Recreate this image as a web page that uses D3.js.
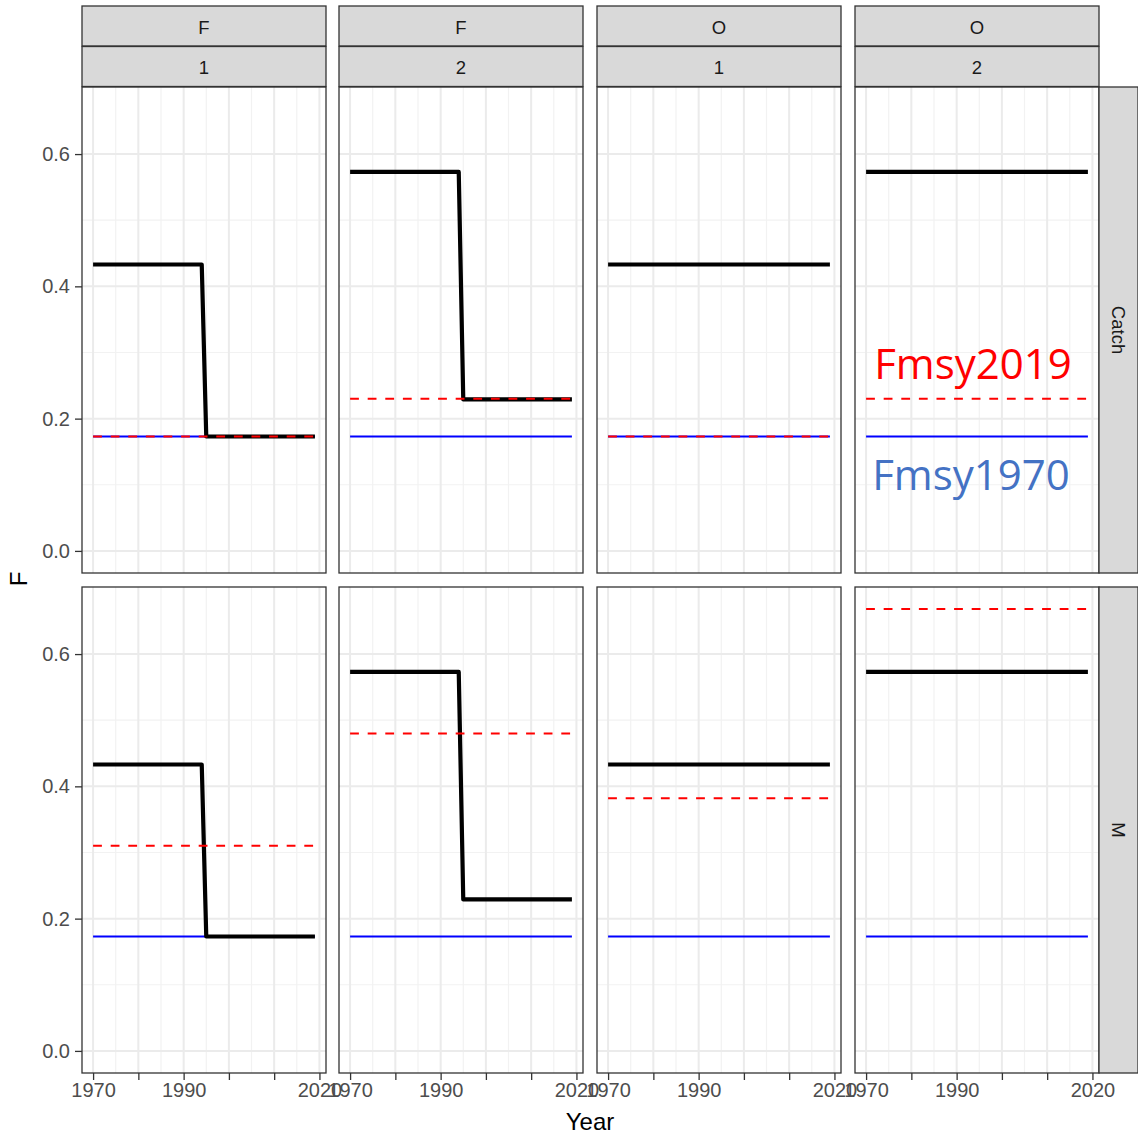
<!DOCTYPE html>
<html>
<head>
<meta charset="utf-8">
<script src="https://cdn.jsdelivr.net/npm/d3@7"></script>
<style>
  body { margin: 0; background: #fff; }
</style>
</head>
<body>
<div id="chart"></div>
<script>
// facet columns (two strip rows) and facet rows
var colTop = ["F", "F", "O", "O"];
var colBottom = ["1", "2", "1", "2"];
var rowLabels = ["Catch", "M"];

// black F trajectory per column: [year, F]
var fPaths = [
  [[1970, 0.433], [1994, 0.433], [1995, 0.173], [2019, 0.173]],
  [[1970, 0.573], [1994, 0.573], [1995, 0.229], [2019, 0.229]],
  [[1970, 0.433], [2019, 0.433]],
  [[1970, 0.573], [2019, 0.573]]
];

// Fmsy1970 (blue) is the same everywhere
var fmsy1970 = 0.173;
// Fmsy2019 (red dashed) by row, then column
var fmsy2019 = [
  [0.173, 0.230, 0.173, 0.230],
  [0.310, 0.480, 0.382, 0.668]
];

var yearSpan = [1970, 2019];
var xTicks = [1970, 1980, 1990, 2000, 2010, 2020];
var xTickLabels = ["1970", "", "1990", "", "", "2020"];
var yTicks = [0, 0.2, 0.4, 0.6];

// layout
var svgWidth = 1138, svgHeight = 1134;
var panelLeft = [82, 339, 597, 855];
var panelW = 244;
var panelTop = [87, 587];
var panelH = 486;
var font = "'Liberation Sans', Arial, sans-serif";

var svg = d3.select("#chart").append("svg")
    .attr("width", svgWidth)
    .attr("height", svgHeight)
    .style("font-family", font);

// scales (ggplot-like 5% expansion)
var xPad = (yearSpan[1] - yearSpan[0]) * 0.05;
var xScale = d3.scaleLinear()
    .domain([yearSpan[0] - xPad, yearSpan[1] + xPad])
    .range([0, panelW]);
var yMax = 0.668;
var yScale = d3.scaleLinear()
    .domain([-yMax * 0.05, yMax * 1.05])
    .range([panelH, 0]);

var line = d3.line()
    .x(d => xScale(d[0]))
    .y(d => yScale(d[1]));

var minorX = d3.range(1965, 2025, 5);
var minorY = [0.1, 0.3, 0.5];

rowLabels.forEach(function(rowName, r) {
    colTop.forEach(function(c, ci) {
        var g = svg.append("g")
            .attr("transform", `translate(${panelLeft[ci]}, ${panelTop[r]})`);

        // background
        g.append("rect")
            .attr("width", panelW).attr("height", panelH)
            .attr("fill", "white");

        // minor grid
        g.selectAll(".minx").data(minorX.filter(v => xScale(v) > 0 && xScale(v) < panelW))
            .enter().append("line")
            .attr("x1", d => xScale(d)).attr("x2", d => xScale(d))
            .attr("y1", 0).attr("y2", panelH)
            .attr("stroke", "#f2f2f2").attr("stroke-width", 1.2);
        g.selectAll(".miny").data(minorY)
            .enter().append("line")
            .attr("y1", d => yScale(d)).attr("y2", d => yScale(d))
            .attr("x1", 0).attr("x2", panelW)
            .attr("stroke", "#f2f2f2").attr("stroke-width", 1.2);
        // major grid
        g.selectAll(".majx").data(xTicks)
            .enter().append("line")
            .attr("x1", d => xScale(d)).attr("x2", d => xScale(d))
            .attr("y1", 0).attr("y2", panelH)
            .attr("stroke", "#ebebeb").attr("stroke-width", 2);
        g.selectAll(".majy").data(yTicks)
            .enter().append("line")
            .attr("y1", d => yScale(d)).attr("y2", d => yScale(d))
            .attr("x1", 0).attr("x2", panelW)
            .attr("stroke", "#ebebeb").attr("stroke-width", 2);

        // Fmsy1970
        g.append("path")
            .attr("d", line(yearSpan.map(y => [y, fmsy1970])))
            .attr("fill", "none").attr("stroke", "#0000ff").attr("stroke-width", 2);
        // black F
        g.append("path")
            .attr("d", line(fPaths[ci]))
            .attr("fill", "none").attr("stroke", "black").attr("stroke-width", 4.2)
            .attr("stroke-linejoin", "round");
        // Fmsy2019
        g.append("path")
            .attr("d", line(yearSpan.map(y => [y, fmsy2019[r][ci]])))
            .attr("fill", "none").attr("stroke", "#ff0000").attr("stroke-width", 2)
            .attr("stroke-dasharray", "8.8,8.8");

        // border
        g.append("rect")
            .attr("width", panelW).attr("height", panelH)
            .attr("fill", "none").attr("stroke", "#333333").attr("stroke-width", 1.3);

        // y axis on first column
        if (ci === 0) {
            var ya = g.append("g")
                .call(d3.axisLeft(yScale).tickValues(yTicks).tickFormat(d3.format(".1f")).tickSize(7).tickPadding(5));
            ya.select(".domain").remove();
            ya.selectAll("line").attr("stroke", "#333333").attr("stroke-width", 1.3);
            ya.selectAll("text").style("font-size", "20px").style("font-family", font).attr("fill", "#4d4d4d");
        }
        // x axis on bottom row
        if (r === 1) {
            var xa = g.append("g")
                .attr("transform", `translate(0, ${panelH})`)
                .call(d3.axisBottom(xScale).tickValues(xTicks)
                    .tickFormat((d, i) => xTickLabels[i]).tickSize(7).tickPadding(3));
            xa.select(".domain").remove();
            xa.selectAll("line").attr("stroke", "#333333").attr("stroke-width", 1.3);
            xa.selectAll("text").style("font-size", "20px").style("font-family", font).attr("fill", "#4d4d4d");
        }
    });

    // right strip
    var sx = panelLeft[3] + panelW;
    var sg = svg.append("g").attr("transform", `translate(${sx}, ${panelTop[r]})`);
    sg.append("rect").attr("width", 39).attr("height", panelH)
        .attr("fill", "#d9d9d9").attr("stroke", "#333333").attr("stroke-width", 1.3);
    sg.append("text")
        .attr("transform", `translate(19.5, ${panelH / 2}) rotate(90)`)
        .attr("text-anchor", "middle")
        .attr("dominant-baseline", "central")
        .style("font-size", "18.5px").attr("fill", "#1a1a1a")
        .text(rowName);
});

// top strips
colTop.forEach(function(c, ci) {
    [colTop[ci], colBottom[ci]].forEach(function(lbl, k) {
        var sg = svg.append("g")
            .attr("transform", `translate(${panelLeft[ci]}, ${6 + k * 40.5})`);
        sg.append("rect").attr("width", panelW).attr("height", 40)
            .attr("fill", "#d9d9d9").attr("stroke", "#333333").attr("stroke-width", 1.3);
        sg.append("text")
            .attr("x", panelW / 2).attr("y", 21)
            .attr("text-anchor", "middle").attr("dominant-baseline", "central")
            .style("font-size", "18.5px").attr("fill", "#1a1a1a")
            .text(lbl);
    });
});

// axis titles
svg.append("text")
    .attr("x", 590).attr("y", 1130)
    .attr("text-anchor", "middle")
    .style("font-size", "24px").attr("fill", "black")
    .text("Year");
svg.append("text")
    .attr("transform", "translate(27, 579) rotate(-90)")
    .attr("text-anchor", "middle")
    .style("font-size", "24px").attr("fill", "black")
    .text("F");

// annotations
svg.append("text")
    .attr("x", 973).attr("y", 379)
    .attr("text-anchor", "middle")
    .style("font-family", "'Open Sans', sans-serif")
    .style("font-size", "42px").attr("fill", "#ff0000")
    .text("Fmsy2019");
svg.append("text")
    .attr("x", 971).attr("y", 490)
    .attr("text-anchor", "middle")
    .style("font-family", "'Open Sans', sans-serif")
    .style("font-size", "42px").attr("fill", "#4472c4")
    .text("Fmsy1970");
</script>
</body>
</html>
